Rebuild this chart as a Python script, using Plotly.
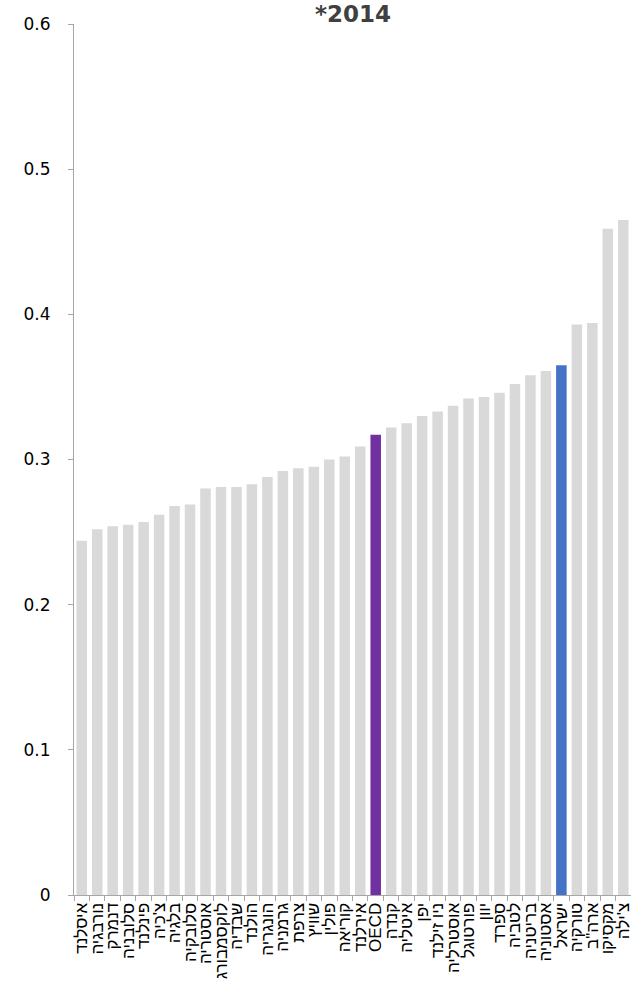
import plotly.graph_objects as go

countries = ["איסלנד", "נורבגיה", "דנמרק", "סלובניה", "פינלנד", "צ'כיה", "בלגיה", "סלובקיה",
             "אוסטריה", "לוקסמבורג", "שבדיה", "הולנד", "הונגריה", "גרמניה", "צרפת", "שוויץ",
             "פולין", "קוריאה", "אירלנד", "OECD", "קנדה", "איטליה", "יפן", "ניו זילנד",
             "אוסטרליה", "פורטוגל", "יוון", "ספרד", "לטביה", "בריטניה", "אסטוניה", "ישראל",
             "טורקיה", "ארה\"ב", "מקסיקו", "צ'ילה"]
gini = [0.244, 0.252, 0.254, 0.255, 0.257, 0.262, 0.268, 0.269,
        0.280, 0.281, 0.281, 0.283, 0.288, 0.292, 0.294, 0.295,
        0.300, 0.302, 0.309, 0.317, 0.322, 0.325, 0.330, 0.333,
        0.337, 0.342, 0.343, 0.346, 0.352, 0.358, 0.361, 0.365,
        0.393, 0.394, 0.459, 0.465]
title_text = "*2014"
y_ticks = [0, 0.1, 0.2, 0.3, 0.4, 0.5, 0.6]
y_tick_labels = ["0", "0.1", "0.2", "0.3", "0.4", "0.5", "0.6"]

highlight = {"OECD": "#7030A0", "ישראל": "#4472C4"}
colors = [highlight.get(c, "#D9D9D9") for c in countries]

fig = go.Figure(go.Bar(x=countries, y=gini, marker=dict(color=colors, line=dict(width=0)),
                       width=0.68))

fig.update_layout(
    width=631, height=987,
    margin=dict(l=74, r=0, t=24, b=92, autoexpand=False),
    paper_bgcolor="white", plot_bgcolor="white",
    showlegend=False,
    font=dict(family="Liberation Sans, Arial, DejaVu Sans", color="black"),
    annotations=[dict(text="<b>%s</b>" % title_text, x=0.5, xref="paper", y=1.012, yref="paper",
                      yanchor="middle", xanchor="center", showarrow=False,
                      font=dict(family="DejaVu Sans", size=23, color="#404040"))],
)
fig.update_xaxes(
    type="category", tickangle=-90, showline=True, linecolor="#A6A6A6", linewidth=1,
    ticks="outside", tickson="boundaries", ticklen=5, tickcolor="#A6A6A6",
    tickmode="array", tickvals=countries, ticktext=countries, automargin=False,
    tickfont=dict(size=17, family="Liberation Sans, Arial, DejaVu Sans", color="black"),
    showgrid=False, range=[-0.5, len(countries) - 0.5],
)
fig.update_yaxes(
    range=[0, 0.6], tickvals=y_ticks, ticktext=y_tick_labels, showline=True,
    linecolor="#A6A6A6", linewidth=1, ticks="outside", ticklen=5, tickcolor="#A6A6A6",
    tickfont=dict(size=17, family="DejaVu Sans", color="black"), automargin=False,
    showgrid=False, zeroline=False, ticklabelstandoff=14,
)

fig.write_html("out.html", config={"displayModeBar": False})

with open("out.html", encoding="utf-8") as f:
    html = f.read()
html = html.replace("<head>", "<head><style>html,body{margin:0;padding:0;overflow:hidden}</style>", 1)
with open("out.html", "w", encoding="utf-8") as f:
    f.write(html)
